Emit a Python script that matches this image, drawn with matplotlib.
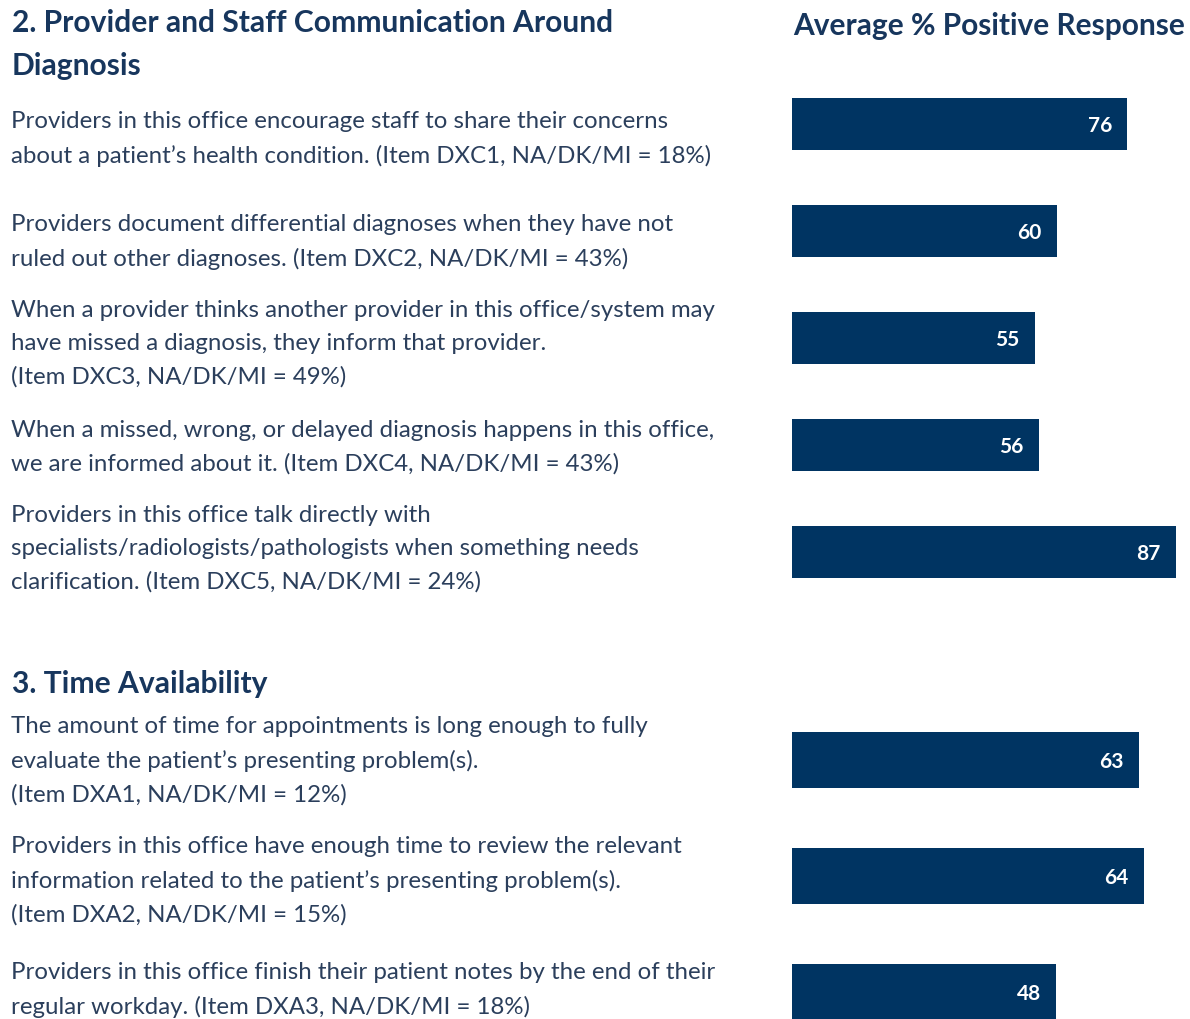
import numpy as np
import matplotlib.pyplot as plt

# data
sec1_title = "2. Provider and Staff Communication Around\nDiagnosis"
sec1_items = [
    "Providers in this office encourage staff to share their concerns\nabout a patient\u2019s health condition. (Item DXC1, NA/DK/MI = 18%)",
    "Providers document differential diagnoses when they have not\nruled out other diagnoses. (Item DXC2, NA/DK/MI = 43%)",
    "When a provider thinks another provider in this office/system may\nhave missed a diagnosis, they inform that provider.\n(Item DXC3, NA/DK/MI = 49%)",
    "When a missed, wrong, or delayed diagnosis happens in this office,\nwe are informed about it. (Item DXC4, NA/DK/MI = 43%)",
    "Providers in this office talk directly with\nspecialists/radiologists/pathologists when something needs\nclarification. (Item DXC5, NA/DK/MI = 24%)",
]
sec1_values = [76, 60, 55, 56, 87]

sec2_title = "3. Time Availability"
sec2_items = [
    "The amount of time for appointments is long enough to fully\nevaluate the patient\u2019s presenting problem(s).\n(Item DXA1, NA/DK/MI = 12%)",
    "Providers in this office have enough time to review the relevant\ninformation related to the patient\u2019s presenting problem(s).\n(Item DXA2, NA/DK/MI = 15%)",
    "Providers in this office finish their patient notes by the end of their\nregular workday. (Item DXA3, NA/DK/MI = 18%)",
]
sec2_values = [63, 64, 48]

header = "Average % Positive Response"

W, H = 1190, 1019
bar_col = "#003462"
title_col = "#17365d"
text_col = "#2b3f5c"
plt.rcParams['font.family'] = ['Lato', 'DejaVu Sans']

fig = plt.figure(figsize=(W/100, H/100), dpi=100)

def fx(px):
    return px / W
def fy(py):
    return 1 - py / H

# text blocks (top y in pixels)
fig.text(fx(12), fy(9), sec1_title, fontsize=21.6, fontweight="bold", color=title_col,
         va="top", linespacing=1.66)
fig.text(fx(793), fy(12), header, fontsize=21.5, fontweight="bold", color=title_col, va="top")
sec1_tops = [111, 214, 300, 420, 505]
for t, y in zip(sec1_items, sec1_tops):
    fig.text(fx(11), fy(y), t, fontsize=17.3, color=text_col, va="top", linespacing=1.69)

fig.text(fx(12), fy(670), sec2_title, fontsize=21.6, fontweight="bold", color=title_col, va="top")
sec2_tops = [716, 836, 962]
for t, y in zip(sec2_items, sec2_tops):
    fig.text(fx(11), fy(y), t, fontsize=17.3, color=text_col, va="top", linespacing=1.69)

# section 1 bars
ax1 = fig.add_axes([fx(792), fy(605.5), fx(398), 535 / H])
y1 = np.arange(len(sec1_values))
ax1.barh(y1, sec1_values, height=0.486, color=bar_col)
ax1.set_ylim(4.5, -0.5)
ax1.set_xlim(0, 398 / 4.41)
for y, v in zip(y1, sec1_values):
    ax1.annotate(str(v), (v, y), xytext=(-11, 0), textcoords="offset points",
                 ha="right", va="center_baseline", color="white", fontsize=15, fontweight="bold")
ax1.axis("off")

# section 2 bars
ax2 = fig.add_axes([fx(792), 0, fx(398), (1019 - 702) / H])
y2 = np.arange(len(sec2_values))
ax2.barh(y2, sec2_values, height=0.48, color=bar_col)
ax2.set_ylim((1019 - 702) / 116 - 0.5, -0.5)
ax2.set_xlim(0, 398 / 5.5)
for y, v in zip(y2, sec2_values):
    ax2.annotate(str(v), (v, y), xytext=(-11, 0), textcoords="offset points",
                 ha="right", va="center_baseline", color="white", fontsize=15, fontweight="bold")
ax2.axis("off")

plt.savefig("out.png", dpi=100)
